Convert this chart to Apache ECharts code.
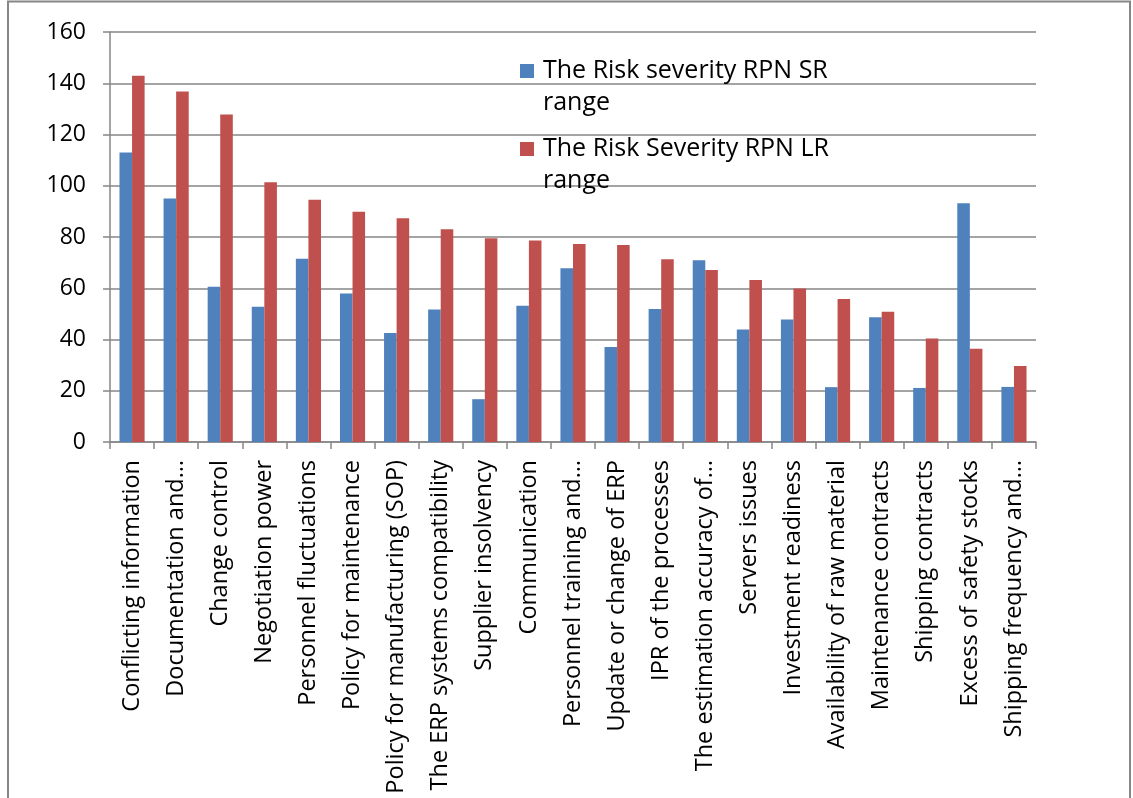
<!DOCTYPE html>
<html>
<head>
<meta charset="utf-8">
<script src="https://cdn.jsdelivr.net/npm/echarts@6/dist/echarts.min.js"></script>
<style>
  html, body { margin: 0; padding: 0; background: #ffffff; }
  #chart { width: 1133px; height: 798px; }
</style>
</head>
<body>
<div id="chart"></div>
<script>
// Risk factors in descending order of long-range severity
const categories = [
  'Conflicting information',
  'Documentation and\u2026',
  'Change control',
  'Negotiation power',
  'Personnel fluctuations',
  'Policy for maintenance',
  'Policy for manufacturing (SOP)',
  'The ERP systems compatibility',
  'Supplier insolvency',
  'Communication',
  'Personnel training and\u2026',
  'Update or change of ERP',
  'IPR of the processes',
  'The estimation accuracy of\u2026',
  'Servers issues',
  'Investment readiness',
  'Availability of raw material',
  'Maintenance contracts',
  'Shipping contracts',
  'Excess of safety stocks',
  'Shipping frequency and\u2026'
];

// RPN, short range
const rpnSR = [113, 95, 60.6, 52.8, 71.5, 58, 42.5, 51.7, 16.7, 53.2, 67.8,
               37.1, 51.9, 70.9, 43.9, 47.8, 21.4, 48.7, 21.1, 93.2, 21.5];
// RPN, long range
const rpnLR = [142.9, 136.8, 127.8, 101.4, 94.5, 89.9, 87.3, 83, 79.5, 78.6, 77.3,
               76.9, 71.3, 67.1, 63.2, 59.9, 55.8, 50.8, 40.4, 36.4, 29.7];

const seriesNames = ['The Risk severity RPN SR\nrange', 'The Risk Severity RPN LR\nrange'];
const yTicks = { min: 0, max: 160, interval: 20 };

const FONT = 'Open Sans';
const GRID_GRAY = '#868686';

const chart = echarts.init(document.getElementById('chart'), null, { renderer: 'canvas' });

// One legend block per series; a blank leading line keeps the first
// text line level with the colour swatch.
function legendFor(name, top) {
  return {
    data: [name],
    left: 515,
    top: top,
    orient: 'vertical',
    itemWidth: 14,
    itemHeight: 14,
    itemGap: 0,
    icon: 'rect',
    selectedMode: false,
    formatter: n => '\n' + n,
    textStyle: {
      fontFamily: FONT,
      fontSize: 25,
      color: '#000000',
      lineHeight: 32,
      padding: [0, 0, 0, 4]
    }
  };
}

chart.setOption({
  animation: false,
  backgroundColor: '#ffffff',
  textStyle: { fontFamily: FONT },
  graphic: [{
    type: 'rect',
    silent: true,
    shape: { x: 8, y: 1.5, width: 1122, height: 830 },
    style: { fill: null, stroke: GRID_GRAY, lineWidth: 2 }
  }],
  legend: [legendFor(seriesNames[0], 18), legendFor(seriesNames[1], 96)],
  grid: { left: 110, top: 32, width: 926, height: 410, containLabel: false },
  xAxis: {
    type: 'category',
    data: categories,
    boundaryGap: true,
    axisLine: { show: true, lineStyle: { color: GRID_GRAY, width: 1.5 } },
    axisTick: { show: true, length: 7, lineStyle: { color: GRID_GRAY, width: 1.5 } },
    axisLabel: {
      rotate: 90,
      interval: 0,
      margin: 18,
      fontFamily: FONT,
      fontSize: 23.5,
      color: '#000000'
    }
  },
  yAxis: {
    type: 'value',
    min: yTicks.min,
    max: yTicks.max,
    interval: yTicks.interval,
    axisLine: { show: true, lineStyle: { color: GRID_GRAY, width: 1.5 } },
    axisTick: { show: true, length: 7, lineStyle: { color: GRID_GRAY, width: 1.5 } },
    splitLine: { show: true, lineStyle: { color: GRID_GRAY, width: 1.5 } },
    axisLabel: {
      margin: 24,
      fontFamily: FONT,
      fontSize: 23,
      color: '#000000'
    }
  },
  series: [
    {
      name: seriesNames[0],
      type: 'bar',
      data: rpnSR,
      barGap: '0%',
      barCategoryGap: '43%',
      itemStyle: { color: '#4F81BD' }
    },
    {
      name: seriesNames[1],
      type: 'bar',
      data: rpnLR,
      barGap: '0%',
      barCategoryGap: '43%',
      itemStyle: { color: '#C0504D' }
    }
  ]
});
</script>
</body>
</html>
